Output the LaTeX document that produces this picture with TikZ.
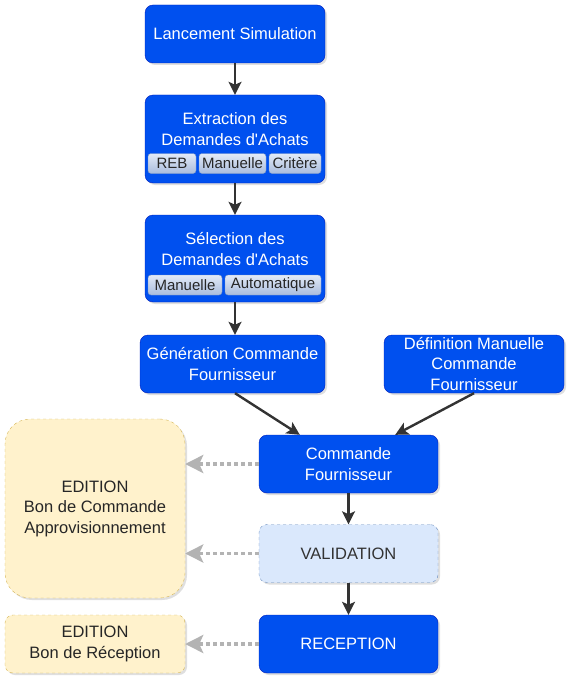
\documentclass[tikz,border=0pt]{standalone}
\usepackage{fontspec}
\setmainfont{Liberation Sans}[Ligatures=TeXOff]
\usetikzlibrary{arrows.meta,shadows}
\definecolor{bleu}{HTML}{0050EF}
\definecolor{bleubord}{HTML}{001DBC}
\definecolor{valfond}{HTML}{DAE8FC}
\definecolor{valbord}{HTML}{6C8EBF}
\definecolor{edfond}{HTML}{FFF2CC}
\definecolor{edbord}{HTML}{D6B656}
\definecolor{fleche}{HTML}{333333}
\definecolor{gris}{HTML}{B3B3B3}
\definecolor{btnhaut}{HTML}{E2EAF7}
\definecolor{btnbas}{HTML}{A9BCDD}
\definecolor{btnbord}{HTML}{7F99C2}
\tikzset{
	boite/.style={rectangle, rounded corners=8pt, minimum width=180pt, minimum height=58pt,
		align=center, inner sep=2pt, font=\fontsize{16.5}{20.5}\selectfont,
		drop shadow={shadow xshift=2pt, shadow yshift=-2pt, opacity=0.25}},
	bleue/.style={boite, fill=bleu, draw=bleubord, text=white},
	validation/.style={boite, fill=valfond, draw=valbord, dashed, text=fleche},
	edition/.style={boite, fill=edfond, draw=edbord, dashed, text=black!85},
	bouton/.style={rectangle, rounded corners=3pt, draw=btnbord, top color=btnhaut, bottom color=btnbas,
		text=black!85, font=\fontsize{15}{18}\selectfont, minimum height=20pt, inner sep=0pt},
	suite/.style={draw=fleche, line width=2.4pt, -{Stealth[length=13pt,width=13pt,inset=3pt]}},
	impression/.style={draw=gris, line width=3.5pt, dash pattern=on 3.5pt off 3.5pt,
		-{Stealth[length=18pt,width=18pt,inset=4pt]}}
}
\begin{document}
\begin{tikzpicture}[x=1pt, y=-1pt]
	\useasboundingbox (0,0) rectangle (571,682);
	% colonne principale
	\node[bleue] (lanc) at (235,34) {Lancement Simulation};
	\node[bleue, minimum height=88pt] (extr) at (235,139) {};
	\node[text=white, align=center, font=\fontsize{16.5}{20.5}\selectfont] (extrtxt) at (235,129) {Extraction des\\Demandes d'Achats};
	\node[bouton, minimum width=48pt] (reb) at (172,163.5) {REB};
	\node[bouton, minimum width=67pt] (manu) at (232.5,163.5) {Manuelle};
	\node[bouton, minimum width=52pt] (crit) at (295,163.5) {Critère};
	\node[bleue, minimum height=87pt] (sel) at (235,258.5) {};
	\node[text=white, align=center, font=\fontsize{16.5}{20.5}\selectfont] (seltxt) at (235,249) {Sélection des\\Demandes d'Achats};
	\node[bouton, minimum width=74pt] (selmanu) at (185,285) {Manuelle};
	\node[bouton, minimum width=96pt] (selauto) at (273,285) {Automatique};
	\node[bleue, minimum width=185pt] (gen) at (232.5,364) {Génération Commande\\Fournisseur};
	\node[bleue] (defman) at (474,364) {Définition Manuelle\\Commande\\Fournisseur};
	\node[bleue, minimum width=179pt] (cmd) at (348.5,464) {Commande\\Fournisseur};
	\node[validation, minimum width=179pt] (valid) at (348.5,553.5) {VALIDATION};
	\node[bleue, minimum width=179pt] (recep) at (348.5,644) {RECEPTION};
	% editions
	\node[edition, rounded corners=25pt, minimum height=179pt] (edcmd) at (95,508.5) {EDITION\\Bon de Commande\\Approvisionnement};
	\node[edition] (edrec) at (95,644) {EDITION\\Bon de Réception};
	% liaisons
	\draw[suite] (lanc) -- (extr);
	\draw[suite] (extr) -- (sel);
	\draw[suite] (sel) -- (sel |- gen.north);
	\draw[suite] ([xshift=2.5pt]gen.south) -- ([xshift=41pt]cmd.north west);
	\draw[suite] (defman.south) -- ([xshift=-43pt]cmd.north east);
	\draw[suite] (cmd) -- (valid);
	\draw[suite] (valid) -- (recep);
	\draw[impression] (cmd.west) -- (cmd.west -| edcmd.east);
	\draw[impression] (valid.west) -- (valid.west -| edcmd.east);
	\draw[impression] (recep) -- (edrec);
\end{tikzpicture}
\end{document}
